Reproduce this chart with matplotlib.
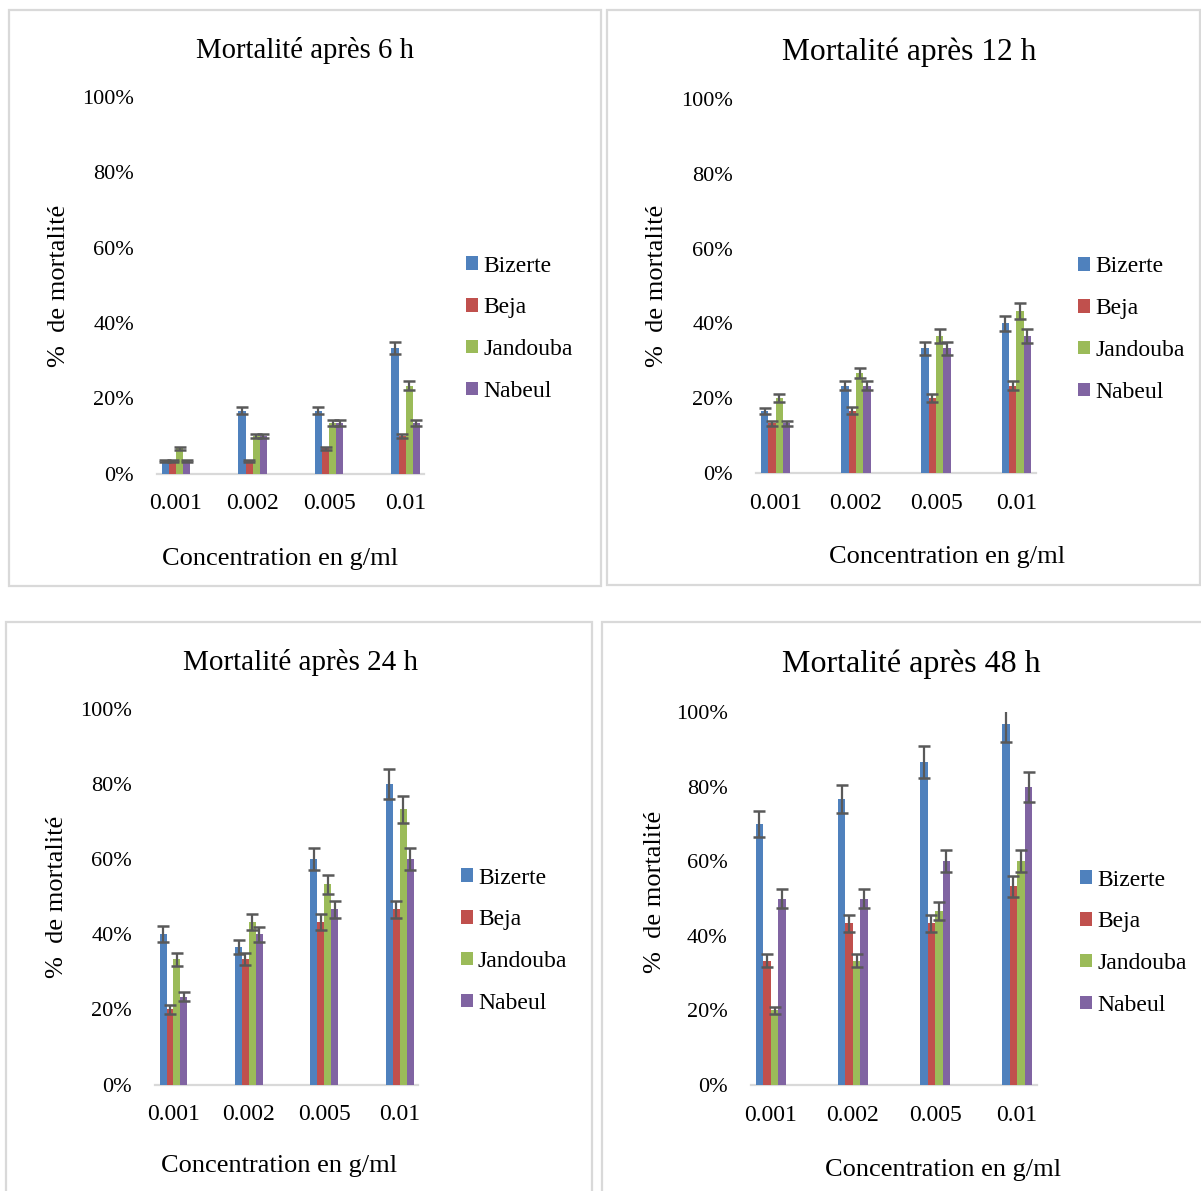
import matplotlib
matplotlib.use("Agg")
import matplotlib.pyplot as plt
from matplotlib.patches import Rectangle
from matplotlib.ticker import FuncFormatter
import numpy as np

plt.rcParams['font.family'] = ['Liberation Serif', 'DejaVu Serif']

# ---------------- data ----------------
concentrations = ["0.001", "0.002", "0.005", "0.01"]
regions = ["Bizerte", "Beja", "Jandouba", "Nabeul"]
colors = ["#4F81BD", "#C0504D", "#9BBB59", "#8064A2"]

# 6 h
h6_bizerte = [3.33, 16.67, 16.67, 33.33]
h6_beja = [3.33, 3.33, 6.67, 10.0]
h6_jandouba = [6.67, 10.0, 13.33, 23.33]
h6_nabeul = [3.33, 10.0, 13.33, 13.33]
h6_err_bizerte = [0.3, 0.9, 0.9, 1.7]
h6_err_beja = [0.3, 0.3, 0.4, 0.5]
h6_err_jandouba = [0.4, 0.6, 0.8, 1.2]
h6_err_nabeul = [0.3, 0.6, 0.8, 0.8]

# 12 h
h12_bizerte = [16.67, 23.33, 33.33, 40.0]
h12_beja = [13.33, 16.67, 20.0, 23.33]
h12_jandouba = [20.0, 26.67, 36.67, 43.33]
h12_nabeul = [13.33, 23.33, 33.33, 36.67]
h12_err_bizerte = [0.8, 1.2, 1.7, 2.0]
h12_err_beja = [0.7, 0.9, 1.0, 1.2]
h12_err_jandouba = [1.0, 1.3, 1.9, 2.1]
h12_err_nabeul = [0.7, 1.2, 1.7, 1.9]

# 24 h
h24_bizerte = [40.0, 36.67, 60.0, 80.0]
h24_beja = [20.0, 33.33, 43.33, 46.67]
h24_jandouba = [33.33, 43.33, 53.33, 73.33]
h24_nabeul = [23.33, 40.0, 46.67, 60.0]
h24_err_bizerte = [2.1, 1.9, 3.0, 4.0]
h24_err_beja = [1.1, 1.6, 2.2, 2.3]
h24_err_jandouba = [1.7, 2.2, 2.5, 3.6]
h24_err_nabeul = [1.2, 2.0, 2.3, 3.0]

# 48 h
h48_bizerte = [70.0, 76.67, 86.67, 96.67]
h48_beja = [33.33, 43.33, 43.33, 53.33]
h48_jandouba = [20.0, 33.33, 46.67, 60.0]
h48_nabeul = [50.0, 50.0, 60.0, 80.0]
h48_err_bizerte = [3.5, 3.8, 4.3, 4.8]
h48_err_beja = [1.7, 2.2, 2.2, 2.8]
h48_err_jandouba = [1.0, 1.7, 2.4, 3.0]
h48_err_nabeul = [2.5, 2.5, 3.0, 4.0]

titles = ["Mortalité après 6 h", "Mortalité après 12 h",
          "Mortalité après 24 h", "Mortalité après 48 h"]
ylabel = "%  de mortalité"
xlabel = "Concentration en g/ml"
yticks = [0, 20, 40, 60, 80, 100]

panels_values = [
    [h6_bizerte, h6_beja, h6_jandouba, h6_nabeul],
    [h12_bizerte, h12_beja, h12_jandouba, h12_nabeul],
    [h24_bizerte, h24_beja, h24_jandouba, h24_nabeul],
    [h48_bizerte, h48_beja, h48_jandouba, h48_nabeul],
]
panels_errors = [
    [h6_err_bizerte, h6_err_beja, h6_err_jandouba, h6_err_nabeul],
    [h12_err_bizerte, h12_err_beja, h12_err_jandouba, h12_err_nabeul],
    [h24_err_bizerte, h24_err_beja, h24_err_jandouba, h24_err_nabeul],
    [h48_err_bizerte, h48_err_beja, h48_err_jandouba, h48_err_nabeul],
]

# ---------------- layout (pixels) ----------------
W, H = 1201, 1191
fig = plt.figure(figsize=(W / 100, H / 100), dpi=100)
fig.patch.set_facecolor("white")

def fx(x):
    return x / W

def fy(y):
    return 1 - y / H

# axes boxes: x0, x1, ytop(100%), ybottom(0%)
axes_px = [
    (157.3, 424.3, 97.0, 473.5),
    (756.0, 1036.0, 99.0, 473.0),
    (155.0, 418.3, 709.0, 1084.5),
    (750.7, 1037.3, 712.0, 1085.0),
]
borders_px = [
    (8.6, 10.0, 601.0, 585.7),
    (607.0, 10.0, 1200.0, 585.0),
    (6.0, 621.7, 592.0, 1200.0),
    (601.7, 621.7, 1205.0, 1200.0),
]
title_pos = [(304.5, 58.3, 20.7), (909.5, 60.0, 22.7),
             (300.5, 670.0, 21.0), (911.0, 672.0, 23.0)]
ylabel_pos = [(59, 286), (657, 286), (57, 897), (655, 892)]
xlabel_pos = [(280, 559), (947, 557), (279, 1166), (943, 1170)]
legend_pos = [(466, 255.5), (1078, 256.5), (461, 867.5), (1080, 869.5)]

bar_w = 0.092
x = np.arange(len(concentrations))
grid_gray = "#D9D9D9"

for p in range(4):
    x0, x1, yt, yb = axes_px[p]
    ax = fig.add_axes([fx(x0), fy(yb), (x1 - x0) / W, (yb - yt) / H])
    handles = []
    for i, (reg, col) in enumerate(zip(regions, colors)):
        xs = x + (i - 1.5) * bar_w
        b = ax.bar(xs, panels_values[p][i], width=bar_w, color=col,
                   edgecolor="none", label=reg, zorder=2)
        handles.append(b)
        ax.errorbar(xs, panels_values[p][i], yerr=panels_errors[p][i],
                    fmt="none", ecolor="#595959", elinewidth=1.6,
                    capsize=4.3, capthick=1.8, zorder=3)
    ax.set_xlim(-0.245, 3.245)
    ax.set_ylim(0, 100)
    ax.set_yticks(yticks)
    ax.yaxis.set_major_formatter(FuncFormatter(lambda v, pos: f"{v:.0f}%"))
    ax.set_xticks(x)
    ax.set_xticklabels(concentrations)
    ax.tick_params(axis="y", length=0, pad=16.6, labelsize=16)
    ax.tick_params(axis="x", length=0, pad=14.3, labelsize=17)
    for s in ["top", "right", "left"]:
        ax.spines[s].set_visible(False)
    ax.spines["bottom"].set_color(grid_gray)
    ax.spines["bottom"].set_linewidth(1.6)
    ax.spines["bottom"].set_zorder(1)
    ax.set_facecolor("none")

    lx, ly = legend_pos[p]
    ax.legend(handles, regions, loc="upper left",
              bbox_to_anchor=(fx(lx), fy(ly)), bbox_transform=fig.transFigure,
              frameon=False, borderpad=0, borderaxespad=0,
              handlelength=0.5, handleheight=0.5, handletextpad=0.22,
              labelspacing=0.88, fontsize=17)

    tx, ty, ts = title_pos[p]
    fig.text(fx(tx), fy(ty), titles[p], ha="center", va="baseline",
             fontsize=ts, color="black")
    yx, yy = ylabel_pos[p]
    fig.text(fx(yx), fy(yy), ylabel, rotation=90, ha="center", va="center",
             fontsize=19, color="black")
    xx, xy = xlabel_pos[p]
    fig.text(fx(xx), fy(xy), xlabel, ha="center", va="center",
             fontsize=19, color="black")

    bx0, by0, bx1, by1 = borders_px[p]
    fig.add_artist(Rectangle((fx(bx0), fy(by1)), (bx1 - bx0) / W,
                             (by1 - by0) / H, transform=fig.transFigure,
                             fill=False, edgecolor=grid_gray, linewidth=1.6))

fig.savefig("out.png", dpi=100)
